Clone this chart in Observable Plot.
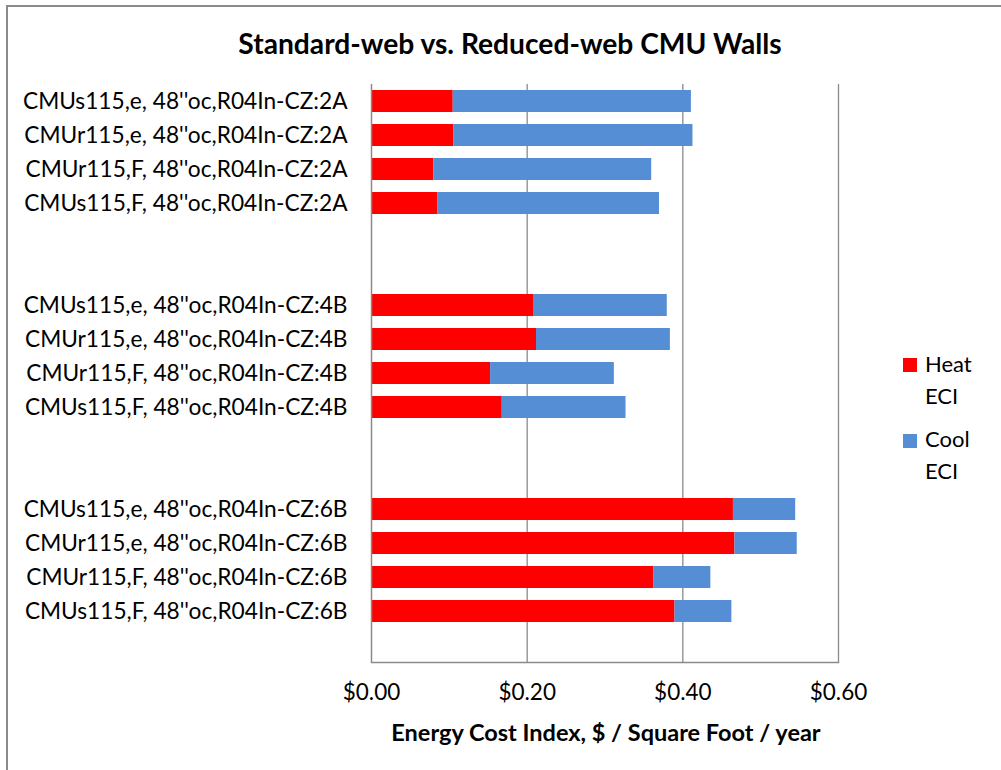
<!DOCTYPE html>
<html>
<head>
<meta charset="utf-8">
<script src="https://cdn.jsdelivr.net/npm/d3@7"></script>
<script src="https://cdn.jsdelivr.net/npm/@observablehq/plot@0.6"></script>
<style>
  html, body { margin: 0; padding: 0; background: #fff; }
  #chart { position: relative; width: 1001px; height: 770px; overflow: hidden; font-family: Lato, "Open Sans", sans-serif; color: #000; }
  #chart svg { position: absolute; left: 0; top: 0; }
  .border { position: absolute; left: 6px; top: 5px; width: 2000px; height: 2000px; border-left: 2px solid #8a8a8a; border-top: 2px solid #8a8a8a; box-sizing: border-box; }
  .title { position: absolute; left: 0; width: 1020px; top: 26px; text-align: center; font-weight: bold; font-size: 28.2px; }
  .xlabel { position: absolute; left: 371px; width: 470px; top: 718px; text-align: center; font-weight: bold; font-size: 23.5px; }
  .legend { position: absolute; left: 903px; font-size: 22px; line-height: 32px; }
  .legend .sw { position: absolute; left: 0; width: 14px; height: 14px; }
  .legend .tx { position: absolute; left: 22px; white-space: nowrap; }
</style>
</head>
<body>
<div id="chart">
  <div class="border"></div>
  <div class="title">Standard-web vs. Reduced-web CMU Walls</div>
  <div class="xlabel">Energy Cost Index, $ / Square Foot / year</div>
</div>
<script>
// Categories (top to bottom)
const labels = [
  "CMUs115,e, 48''oc,R04In-CZ:2A",
  "CMUr115,e, 48''oc,R04In-CZ:2A",
  "CMUr115,F, 48''oc,R04In-CZ:2A",
  "CMUs115,F, 48''oc,R04In-CZ:2A",
  "CMUs115,e, 48''oc,R04In-CZ:4B",
  "CMUr115,e, 48''oc,R04In-CZ:4B",
  "CMUr115,F, 48''oc,R04In-CZ:4B",
  "CMUs115,F, 48''oc,R04In-CZ:4B",
  "CMUs115,e, 48''oc,R04In-CZ:6B",
  "CMUr115,e, 48''oc,R04In-CZ:6B",
  "CMUr115,F, 48''oc,R04In-CZ:6B",
  "CMUs115,F, 48''oc,R04In-CZ:6B"
];
// Series values ($ / sq ft / year)
const heatECI = [0.105, 0.106, 0.080, 0.085, 0.209, 0.212, 0.153, 0.168, 0.465, 0.467, 0.363, 0.390];
const coolECI = [0.306, 0.307, 0.280, 0.285, 0.171, 0.172, 0.159, 0.159, 0.080, 0.080, 0.073, 0.073];
const seriesNames = ["Heat ECI", "Cool ECI"];
const seriesColors = ["#FF0000", "#558ED5"];
const xTicks = [0, 0.2, 0.4, 0.6];
// empty category slots separating the climate-zone groups
const gapSlots = ["gap1", "gap2", "gap3", "gap4", "gap5"];

const yDomain = [
  ...labels.slice(0, 4), gapSlots[0], gapSlots[1],
  ...labels.slice(4, 8), gapSlots[2], gapSlots[3],
  ...labels.slice(8, 12), gapSlots[4]
];

const data = labels.flatMap((l, i) => [
  {label: l, type: seriesNames[0], value: heatECI[i]},
  {label: l, type: seriesNames[1], value: coolECI[i]}
]);

const chart = Plot.plot({
  width: 1001,
  height: 770,
  marginLeft: 371,
  marginRight: 163,
  marginTop: 84,
  marginBottom: 108,
  style: {fontFamily: "Lato, 'Open Sans', sans-serif", fontSize: "22.5px", color: "#000", background: "transparent", overflow: "visible"},
  x: {domain: [0, 0.6]},
  y: {domain: yDomain, paddingInner: 0.34, paddingOuter: 0.17},
  color: {domain: seriesNames, range: seriesColors},
  marks: [
    Plot.gridX({ticks: xTicks.slice(1), stroke: "#8a8a8a", strokeOpacity: 1, strokeWidth: 1.3}),
    Plot.barX(data, Plot.stackX({y: "label", x: "value", fill: "type", order: seriesNames})),
    Plot.ruleX([0], {stroke: "#8a8a8a", strokeWidth: 1.5}),
    Plot.frame({anchor: "bottom", stroke: "#8a8a8a", strokeWidth: 1.5}),
    Plot.axisX({ticks: xTicks, tickFormat: d => "$" + d.toFixed(2), tickSize: 0, tickPadding: 22, label: null, fontSize: 22.5}),
    Plot.axisY({ticks: labels, tickSize: 0, tickPadding: 24, label: null, fontSize: 22.7})
  ]
});
document.getElementById("chart").appendChild(chart);

// legend
const legend = document.createElement("div");
legend.className = "legend";
legend.style.top = "0px";
const legendRows = [{sw: 358, tx: 348}, {sw: 434, tx: 423}];
seriesNames.forEach((name, i) => {
  const sw = document.createElement("div");
  sw.className = "sw";
  sw.style.background = seriesColors[i];
  sw.style.top = legendRows[i].sw + "px";
  legend.appendChild(sw);
  const parts = name.split(" ");
  parts.forEach((p, j) => {
    const t = document.createElement("div");
    t.className = "tx";
    t.textContent = p;
    t.style.top = (legendRows[i].tx + j * 32) + "px";
    legend.appendChild(t);
  });
});
document.getElementById("chart").appendChild(legend);
</script>
</body>
</html>
